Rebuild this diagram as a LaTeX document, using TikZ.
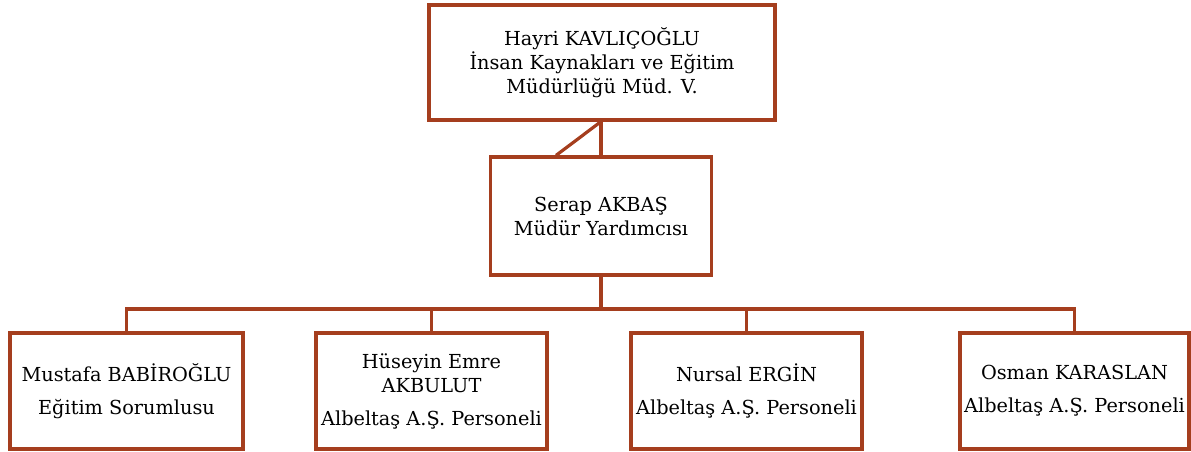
\documentclass[tikz,border=0pt]{standalone}
\usepackage{fontspec}
\setmainfont{DejaVu Serif}
\definecolor{boxred}{RGB}{165,62,30}
\begin{document}
\begin{tikzpicture}[x=1pt,y=-1pt,
  box/.style={draw=boxred,line width=3.2pt,fill=white,align=center,inner sep=0pt,
    font=\fontsize{19.3}{24}\selectfont},
  conn/.style={draw=boxred,line width=3.2pt}]
\useasboundingbox (0,0) rectangle (1191,452);
\node[box,minimum width=346,minimum height=115] (top) at (602,62.5)
  {Hayri KAVLIÇOĞLU\\İnsan Kaynakları ve Eğitim\\Müdürlüğü Müd. V.};
\node[box,minimum width=221,minimum height=118] (mid) at (601,216)
  {Serap AKBAŞ\\Müdür Yardımcısı};
\node[box,minimum width=233,minimum height=116] (b1) at (126.5,391)
  {Mustafa BABİROĞLU\\[9pt]Eğitim Sorumlusu};
\node[box,minimum width=231,minimum height=116] (b2) at (431.5,391)
  {Hüseyin Emre\\AKBULUT\\[9pt]Albeltaş A.Ş. Personeli};
\node[box,minimum width=231,minimum height=116] (b3) at (746.5,391)
  {Nursal ERGİN\\[9pt]Albeltaş A.Ş. Personeli};
\node[box,minimum width=229,minimum height=116] (b4) at (1074.5,391)
  {Osman KARASLAN\\[9pt]Albeltaş A.Ş. Personeli};
\coordinate (bus) at (601,309);
\coordinate (diag) at (556,157);
\draw[conn] (top.south -| mid.north) -- (mid.north);
\draw[conn] (top.south -| mid.north) -- (diag |- mid.north);
\draw[conn] (mid.south) -- (bus);
\draw[conn] (b1.north) -- (b1.north |- bus) -- (b4.north |- bus) -- (b4.north);
\draw[conn] (b2.north) -- (b2.north |- bus);
\draw[conn] (b3.north) -- (b3.north |- bus);
\end{tikzpicture}
\end{document}
